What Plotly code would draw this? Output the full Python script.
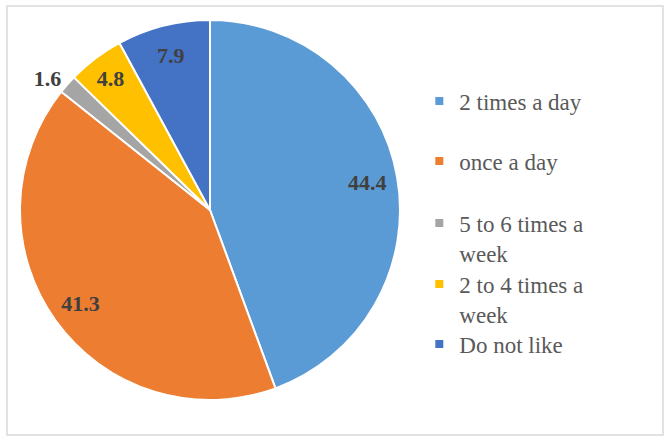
import plotly.graph_objects as go

labels = ["2 times a day", "once a day", "5 to 6 times a week", "2 to 4 times a week", "Do not like"]
values = [44.4, 41.3, 1.6, 4.8, 7.9]
colors = ["#5B9BD5", "#ED7D31", "#A5A5A5", "#FFC000", "#4472C4"]
legend_text = ["2 times a day", "once a day", "5 to 6 times a<br>week", "2 to 4 times a<br>week", "Do not like"]
# which labels sit outside the pie (others are drawn inside, near the rim)
outside_label = [False, False, True, False, False]

W, H = 672, 444
FONT = "Liberation Serif"
CX, CY, R = 210, 210, 190      # pie centre / radius in px

label_font = dict(family=FONT, size=22, color="#404040", weight="bold")
pie_domain = dict(x=[(CX - R) / W, (CX + R) / W], y=[1 - (CY + R) / H, 1 - (CY - R) / H])

fig = go.Figure()
# main pie
fig.add_trace(go.Pie(
    labels=labels, values=values, sort=False, direction="clockwise", rotation=0,
    marker=dict(colors=colors, line=dict(color="white", width=2)),
    texttemplate="%{value:.1f}",
    textposition=["outside" if o else "none" for o in outside_label],
    textfont=label_font, outsidetextfont=label_font,
    domain=pie_domain,
    showlegend=False, hoverinfo="label+value",
))
# transparent ring on top of the pie: places the inside labels near the rim
fig.add_trace(go.Pie(
    labels=labels, values=values, sort=False, direction="clockwise", rotation=0,
    hole=0.68,
    marker=dict(colors=["rgba(0,0,0,0)"] * len(values), line=dict(width=0)),
    texttemplate="%{value:.1f}",
    textposition=["none" if o else "inside" for o in outside_label],
    insidetextorientation="horizontal",
    textfont=label_font, insidetextfont=label_font,
    domain=pie_domain,
    showlegend=False, hoverinfo="skip",
))

# legend entries (one legend per item to mimic the original spacing)
first_line_centers = [101, 161, 223, 284, 344]
line_h = 29.9
legend_layouts = {}
for i, (lab, col) in enumerate(zip(legend_text, colors)):
    key = "legend" if i == 0 else f"legend{i + 1}"
    fig.add_trace(go.Scatter(
        x=[None], y=[None], mode="markers", name=lab,
        marker=dict(symbol="square", size=8, color=col),
        legend=key, showlegend=True, hoverinfo="skip",
    ))
    n_lines = lab.count("<br>") + 1
    cy = first_line_centers[i] + (n_lines - 1) * line_h / 2
    legend_layouts[key] = dict(
        x=0.624, xanchor="left", y=1 - cy / H, yanchor="middle",
        font=dict(family=FONT, size=23, color="#595959"),
        bgcolor="rgba(0,0,0,0)", borderwidth=0, valign="top",
        itemclick=False, itemdoubleclick=False,
    )

fig.update_layout(
    width=W, height=H,
    margin=dict(l=0, r=0, t=0, b=0),
    font=dict(family=FONT),
    paper_bgcolor="white", plot_bgcolor="white",
    xaxis=dict(visible=False), yaxis=dict(visible=False),
    shapes=[dict(type="rect", xref="paper", yref="paper",
                 x0=7 / W, x1=663 / W, y0=1 - 435 / H, y1=1 - 6 / H,
                 line=dict(color="#D9D9D9", width=1.5), fillcolor="rgba(0,0,0,0)")],
    **legend_layouts,
)

fig.write_html("out.html", config={"displayModeBar": False},
               post_script="document.body.style.margin='0';")
